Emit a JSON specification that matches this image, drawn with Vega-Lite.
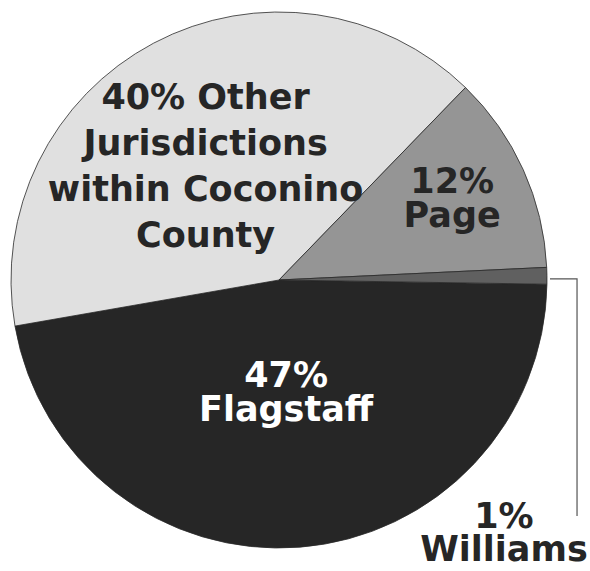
{
  "$schema": "https://vega.github.io/schema/vega-lite/v6.json",
  "width": 558,
  "height": 560,
  "padding": {"left": 0, "top": 0, "right": 32, "bottom": 11},
  "autosize": {"type": "none"},
  "background": "#ffffff",
  "config": {"view": {"stroke": null}},
  "datasets": {
    "shares": [
      {"place": "Flagstaff", "pct": 47, "ord": 1, "label": ["47%", "Flagstaff"]},
      {"place": "Other", "pct": 40, "ord": 2, "label": ["40% Other", "Jurisdictions", "within Coconino", "County"]},
      {"place": "Page", "pct": 12, "ord": 3, "label": ["12%", "Page"]},
      {"place": "Williams", "pct": 1, "ord": 4, "label": ["1%", "Williams"]}
    ],
    "leader": [
      {"lx": 1.011, "ly": 0.004, "step": 1},
      {"lx": 1.112, "ly": 0.004, "step": 2},
      {"lx": 1.112, "ly": -0.881, "step": 3}
    ]
  },
  "layer": [
    {
      "data": {"name": "shares"},
      "mark": {"type": "arc", "outerRadius": 268, "stroke": "#2a2a2a", "strokeWidth": 0.8},
      "encoding": {
        "theta": {"field": "pct", "type": "quantitative", "stack": true, "scale": {"range": [1.5865, 7.8697]}},
        "order": {"field": "ord", "type": "quantitative"},
        "color": {
          "field": "place", "type": "nominal", "legend": null,
          "scale": {"domain": ["Flagstaff", "Other", "Page", "Williams"], "range": ["#262626", "#e0e0e0", "#959595", "#606060"]}
        }
      }
    },
    {
      "data": {"name": "shares"},
      "mark": {
        "type": "text", "font": "DejaVu Sans", "fontWeight": "bold", "fontSize": 35, "align": "center", "baseline": "middle",
        "radius": {"expr": "datum.place == 'Flagstaff' ? 116 : datum.place == 'Other' ? 127 : datum.place == 'Page' ? 190 : 268"},
        "dx": {"expr": "datum.place == 'Other' ? -14 : datum.place == 'Flagstaff' ? -2 : datum.place == 'Williams' ? -43 : 0"},
        "dy": {"expr": "datum.place == 'Williams' ? 241 : datum.place == 'Other' ? -70 : -20"},
        "lineHeight": {"expr": "datum.place == 'Other' ? 46 : datum.place == 'Williams' ? 33 : 34"}
      },
      "encoding": {
        "theta": {"field": "pct", "type": "quantitative", "stack": true},
        "order": {"field": "ord", "type": "quantitative"},
        "text": {"field": "label"},
        "color": {"condition": {"test": "datum.place == 'Flagstaff'", "value": "#ffffff"}, "value": "#262626"}
      }
    },
    {
      "data": {"name": "leader"},
      "mark": {"type": "line", "stroke": "#555555", "strokeWidth": 1.2, "clip": false},
      "encoding": {
        "x": {"field": "lx", "type": "quantitative", "axis": null, "scale": {"domain": [-1.041, 1.041], "nice": false, "zero": false}},
        "y": {"field": "ly", "type": "quantitative", "axis": null, "scale": {"domain": [-1.0448, 1.0448], "nice": false, "zero": false}},
        "order": {"field": "step", "type": "quantitative"}
      }
    }
  ]
}
